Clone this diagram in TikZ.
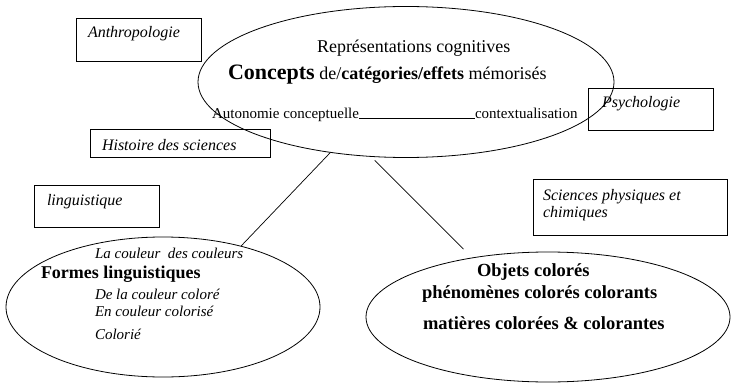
\documentclass[tikz,border=0pt]{standalone}
\usepackage{fontspec}
\setmainfont{Liberation Serif}
\usetikzlibrary{shapes.geometric}
\begin{document}
\begin{tikzpicture}[x=1pt,y=-1pt,
  lbl/.style={anchor=base west,inner sep=0pt,outer sep=0pt},
  frame/.style={draw,rectangle,inner sep=0pt,line width=0.7pt},
  oval/.style={draw,ellipse,inner sep=0pt,line width=0.8pt},
  conn/.style={line width=0.7pt},
  it/.style={font=\fontsize{16}{18}\selectfont\itshape},
  sit/.style={font=\fontsize{15}{17}\selectfont\itshape},
  sm/.style={font=\fontsize{15}{17}\selectfont},
  bf/.style={font=\fontsize{18.5}{21}\selectfont\bfseries}]
\useasboundingbox (0,0) rectangle (735,390);
\fill[white] (0,0) rectangle (735,390);
% boxes
\node[frame,minimum width=125pt,minimum height=43pt] (anthbox) at (138.5,39.5) {};
\node[frame,minimum width=180pt,minimum height=28pt] (histbox) at (180,143) {};
\node[frame,minimum width=125pt,minimum height=42pt] (lingbox) at (96.5,206.5) {};
\node[frame,minimum width=125pt,minimum height=42pt] (psybox) at (650.5,109) {};
\node[frame,minimum width=194pt,minimum height=56pt] (scibox) at (630,207) {};
% ellipses
\node[oval,minimum width=416pt,minimum height=151pt] (top) at (406,82) {};
\node[oval,minimum width=314pt,minimum height=140pt] (bl) at (163,307) {};
\node[oval,minimum width=364pt,minimum height=130pt] (br) at (548,317) {};
% box labels
\node[lbl,it] (anth) at (88,38) {Anthropologie};
\node[lbl,it] (hist) at (102,150) {Histoire des sciences};
\node[lbl,it] (ling) at (47,205) {linguistique};
\node[lbl,it] (psy) at (602,108) {Psychologie};
\node[lbl,it] (sci1) at (543,200) {Sciences physiques et};
\node[lbl,it] (sci2) at (543,217) {chimiques};
% top ellipse texts
\node[lbl,font=\fontsize{18}{20}\selectfont] (rep) at (317,53) {Représentations cognitives};
\node[lbl,font=\fontsize{18}{20}\selectfont] (conc) at (228,80) {{\fontsize{22}{24}\selectfont\bfseries Concepts} de/\textbf{catégories/effets} mémorisés};
\node[lbl,sm] (auto) at (212,118.5) {Autonomie conceptuelle};
\node[lbl,sm] (ctx) at (475,118.5) {contextualisation};
\draw[line width=0.7pt] ([yshift=0.5pt]auto.base east) -- ([yshift=0.5pt]ctx.base west);
% bottom-left texts
\node[lbl,sit] (lc) at (95,258) {La couleur\ \ des couleurs};
\node[lbl,font=\fontsize{18}{20}\selectfont\bfseries] (fl) at (41,278) {Formes linguistiques};
\node[lbl,sit] (dl) at (95,299) {De la couleur coloré};
\node[lbl,sit] (ec) at (95,316) {En couleur colorisé};
\node[lbl,sit] (co) at (95,339) {Colorié};
% bottom-right texts
\node[lbl,bf] (ob) at (477,276) {Objets colorés};
\node[lbl,bf] (ph) at (422,298) {phénomènes colorés colorants};
\node[lbl,bf] (ma) at (423,329) {matières colorées \& colorantes};
% connectors
\draw[conn] (top.223) -- (bl.38);
\draw[conn,shorten <=5pt,shorten >=12pt] (top.245) -- (br.142);
\end{tikzpicture}
\end{document}
